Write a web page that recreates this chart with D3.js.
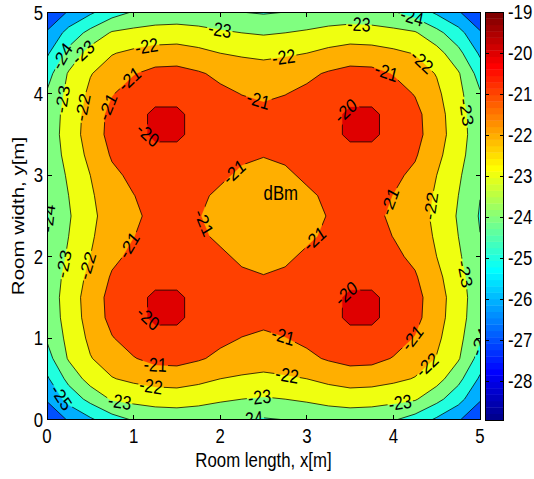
<!DOCTYPE html>
<html>
<head>
<meta charset="utf-8">
<script src="https://cdn.jsdelivr.net/npm/d3@7"></script>
<style>
  body { margin: 0; background: #fff; }
  svg text { font-family: "Liberation Sans", Arial, Helvetica, sans-serif; fill: #000; }
</style>
</head>
<body>
<svg id="chart" width="534" height="479"></svg>
<script>
// ---- data -----------------------------------------------------------------
const xTicks = [0, 1, 2, 3, 4, 5];
const yTicks = [0, 1, 2, 3, 4, 5];
const levels = [-28, -27, -26, -25, -24, -23, -22, -21, -20];
const colorbarTicks = [-19, -20, -21, -22, -23, -24, -25, -26, -27, -28];
const colorLimits = [-28.95, -19];
const gridStep = 0.25; // metres between samples, both directions

// received optical power (dBm), rows from y = 0 m upward, columns from x = 0 m
const power = [
  [-26.75,-25.9,-25.15,-24.4,-23.9,-23.65,-23.6,-23.7,-23.85,-23.98,-24.08,-23.98,-23.85,-23.7,-23.6,-23.65,-23.9,-24.4,-25.15,-25.9,-26.75],
  [-25.9,-24.64,-23.7,-22.9,-22.72,-22.6,-22.55,-22.65,-22.85,-23.0,-23.1,-23.0,-22.85,-22.65,-22.55,-22.6,-22.72,-22.9,-23.7,-24.64,-25.9],
  [-25.15,-23.7,-22.6,-22.05,-21.8,-21.6,-21.55,-21.75,-22.0,-22.13,-22.2,-22.13,-22.0,-21.75,-21.55,-21.6,-21.8,-22.05,-22.6,-23.7,-25.15],
  [-24.4,-22.9,-22.05,-21.55,-21.05,-20.72,-20.68,-20.9,-21.2,-21.45,-21.6,-21.45,-21.2,-20.9,-20.68,-20.72,-21.05,-21.55,-22.05,-22.9,-24.4],
  [-23.9,-22.72,-21.8,-21.05,-20.6,-20.36,-20.36,-20.55,-20.8,-21.02,-21.2,-21.02,-20.8,-20.55,-20.36,-20.36,-20.6,-21.05,-21.8,-22.72,-23.9],
  [-23.65,-22.6,-21.6,-20.72,-20.36,-19.8,-19.8,-20.36,-20.55,-20.67,-20.7,-20.67,-20.55,-20.36,-19.8,-19.8,-20.36,-20.72,-21.6,-22.6,-23.65],
  [-23.6,-22.55,-21.55,-20.68,-20.36,-19.8,-19.8,-20.36,-20.58,-20.7,-20.75,-20.7,-20.58,-20.36,-19.8,-19.8,-20.36,-20.68,-21.55,-22.55,-23.6],
  [-23.7,-22.65,-21.75,-20.9,-20.55,-20.36,-20.36,-20.45,-20.65,-20.85,-20.97,-20.85,-20.65,-20.45,-20.36,-20.36,-20.55,-20.9,-21.75,-22.65,-23.7],
  [-23.85,-22.85,-22.0,-21.2,-20.8,-20.55,-20.58,-20.65,-20.85,-21.15,-21.225,-21.15,-20.85,-20.65,-20.58,-20.55,-20.8,-21.2,-22.0,-22.85,-23.85],
  [-23.98,-23.0,-22.13,-21.45,-21.02,-20.67,-20.7,-20.85,-21.15,-21.4,-21.45,-21.4,-21.15,-20.85,-20.7,-20.67,-21.02,-21.45,-22.13,-23.0,-23.98],
  [-24.08,-23.1,-22.2,-21.6,-21.2,-20.7,-20.75,-20.97,-21.225,-21.45,-21.6,-21.45,-21.225,-20.97,-20.75,-20.7,-21.2,-21.6,-22.2,-23.1,-24.08],
  [-23.98,-23.0,-22.13,-21.45,-21.02,-20.67,-20.7,-20.85,-21.15,-21.4,-21.45,-21.4,-21.15,-20.85,-20.7,-20.67,-21.02,-21.45,-22.13,-23.0,-23.98],
  [-23.85,-22.85,-22.0,-21.2,-20.8,-20.55,-20.58,-20.65,-20.85,-21.15,-21.225,-21.15,-20.85,-20.65,-20.58,-20.55,-20.8,-21.2,-22.0,-22.85,-23.85],
  [-23.7,-22.65,-21.75,-20.9,-20.55,-20.36,-20.36,-20.45,-20.65,-20.85,-20.97,-20.85,-20.65,-20.45,-20.36,-20.36,-20.55,-20.9,-21.75,-22.65,-23.7],
  [-23.6,-22.55,-21.55,-20.68,-20.36,-19.8,-19.8,-20.36,-20.58,-20.7,-20.75,-20.7,-20.58,-20.36,-19.8,-19.8,-20.36,-20.68,-21.55,-22.55,-23.6],
  [-23.65,-22.6,-21.6,-20.72,-20.36,-19.8,-19.8,-20.36,-20.55,-20.67,-20.7,-20.67,-20.55,-20.36,-19.8,-19.8,-20.36,-20.72,-21.6,-22.6,-23.65],
  [-23.9,-22.72,-21.8,-21.05,-20.6,-20.36,-20.36,-20.55,-20.8,-21.02,-21.2,-21.02,-20.8,-20.55,-20.36,-20.36,-20.6,-21.05,-21.8,-22.72,-23.9],
  [-24.4,-22.9,-22.05,-21.55,-21.05,-20.72,-20.68,-20.9,-21.2,-21.45,-21.6,-21.45,-21.2,-20.9,-20.68,-20.72,-21.05,-21.55,-22.05,-22.9,-24.4],
  [-25.15,-23.7,-22.6,-22.05,-21.8,-21.6,-21.55,-21.75,-22.0,-22.13,-22.2,-22.13,-22.0,-21.75,-21.55,-21.6,-21.8,-22.05,-22.6,-23.7,-25.15],
  [-25.9,-24.64,-23.7,-22.9,-22.72,-22.6,-22.55,-22.65,-22.85,-23.0,-23.1,-23.0,-22.85,-22.65,-22.55,-22.6,-22.72,-22.9,-23.7,-24.64,-25.9],
  [-26.75,-25.9,-25.15,-24.4,-23.9,-23.65,-23.6,-23.7,-23.85,-23.98,-24.08,-23.98,-23.85,-23.7,-23.6,-23.65,-23.9,-24.4,-25.15,-25.9,-26.75]
];

// inline contour labels: [level, x (m), y (m)]
const contourLabels = [
  [-24, 0.21, 4.44], [-23, 0.48, 4.44], [-22, 1.15, 4.59], [-23, 1.99, 4.75],
  [-21, 0.94, 4.20], [-23, 0.21, 3.93], [-22, 0.44, 3.83], [-21, 0.73, 3.83],
  [-20, 1.15, 3.48], [-21, 2.40, 3.79], [-21, 2.19, 3.01], [-24, 0.03, 2.47],
  [-21, 1.79, 2.41], [-21, 3.10, 2.21], [-21, 1.00, 2.11], [-23, 0.25, 1.90],
  [-22, 0.50, 1.88], [-20, 1.13, 1.20], [-21, 1.23, 0.61], [-22, 1.19, 0.34],
  [-23, 0.84, 0.22], [-25, 0.15, 0.26], [-23, 2.46, 0.22], [-24, 2.36, 0.00],
  [-24, 4.20, 4.89], [-23, 3.60, 4.79], [-22, 2.74, 4.40], [-22, 4.28, 4.34],
  [-21, 3.91, 4.24], [-20, 3.47, 3.77], [-23, 4.80, 3.77], [-21, 3.91, 2.70],
  [-22, 4.45, 2.62], [-23, 4.78, 1.78], [-20, 3.47, 1.53], [-21, 2.72, 1.00],
  [-21, 4.26, 0.96], [-22, 2.77, 0.53], [-22, 4.39, 0.67], [-23, 4.08, 0.20],
  [-24, 4.97, 1.00]
];
const unitNote = { text: "dBm", x: 2.70, y: 2.79 };

// ---- layout ----------------------------------------------------------------
const plot = { left: 47, right: 480, top: 12.5, bottom: 419.5 };
const cbar = { left: 485, right: 503, top: 12, bottom: 420 };
const FONT = 20.5, LABEL_FONT = 19.5, SX = 0.82; // text is drawn narrow, as in the printed figure
const TICK = 4.5, CB_TICK = 3.5;

const svg = d3.select("#chart");
svg.append("rect").attr("width", 534).attr("height", 479).attr("fill", "#fff");

const x = d3.scaleLinear().domain([0, 5]).range([plot.left, plot.right]);
const y = d3.scaleLinear().domain([0, 5]).range([plot.bottom, plot.top]);
const cb = d3.scaleLinear().domain(colorLimits).range([cbar.bottom, cbar.top]);

// MATLAB-style 64-entry jet colormap
function jet(k) {
  const r = k <= 24 ? 0 : k <= 40 ? (k - 24) / 16 : k <= 55 ? 1 : (72 - k) / 16;
  const g = k <= 8 ? 0 : k <= 24 ? (k - 8) / 16 : k <= 39 ? 1 : k <= 55 ? (56 - k) / 16 : 0;
  const b = k <= 8 ? (k + 8) / 16 : k <= 23 ? 1 : k <= 39 ? (40 - k) / 16 : 0;
  return d3.rgb(r * 255, g * 255, b * 255).formatHex();
}
function colorIndex(v) {
  const k = Math.floor((v - colorLimits[0]) / (colorLimits[1] - colorLimits[0]) * 64) + 1;
  return Math.max(1, Math.min(64, k));
}

// ---- contours ---------------------------------------------------------------
const nx = power[0].length, ny = power.length;
const values = power.flat();
const gen = d3.contours().size([nx, ny]).thresholds(levels);
const bands = gen(values);
const toX = gx => x((gx - 0.5) * gridStep);
const toY = gy => y((gy - 0.5) * gridStep);
const proj = d3.geoTransform({ point(px, py) { this.stream.point(toX(px), toY(py)); } });
const path = d3.geoPath(proj);

const defs = svg.append("defs");
defs.append("clipPath").attr("id", "plotClip")
  .append("rect").attr("x", plot.left).attr("y", plot.top)
  .attr("width", plot.right - plot.left).attr("height", plot.bottom - plot.top);

const fills = svg.append("g").attr("clip-path", "url(#plotClip)");
fills.selectAll("path").data(bands).join("path")
  .attr("d", path)
  .attr("fill", d => jet(colorIndex(d.value)))
  .attr("stroke", d => jet(colorIndex(d.value)))
  .attr("stroke-width", 0.3);

// place each label on the nearest stretch of its contour
function nearestOnContour(level, px, py) {
  const mp = gen.contour(values, level);
  const inside = p => p[0] >= plot.left - 0.01 && p[0] <= plot.right + 0.01 &&
                      p[1] >= plot.top - 0.01 && p[1] <= plot.bottom + 0.01;
  let best = null;
  mp.coordinates.forEach(poly => poly.forEach(ring => {
    const pts = ring.map(([gx, gy]) => [toX(gx), toY(gy)]);
    for (let k = 0; k < pts.length - 1; k++) {
      const a = pts[k], b = pts[k + 1];
      if (!inside(a) || !inside(b)) continue;
      const dx = b[0] - a[0], dy = b[1] - a[1], l2 = dx * dx + dy * dy;
      if (l2 < 1e-9) continue;
      let t = ((px - a[0]) * dx + (py - a[1]) * dy) / l2;
      t = Math.max(0, Math.min(1, t));
      const qx = a[0] + t * dx, qy = a[1] + t * dy;
      const d = (qx - px) ** 2 + (qy - py) ** 2;
      if (!best || d < best.d) best = { d, qx, qy, dx, dy };
    }
  }));
  return best;
}

const measure = svg.append("text").attr("font-size", LABEL_FONT).attr("opacity", 0);
const labelData = contourLabels.map(([lv, lx, ly]) => {
  const hit = nearestOnContour(lv, x(lx), y(ly));
  let px = x(lx), py = y(ly), dx = 1, dy = 0;
  if (hit) { px = hit.qx; py = hit.qy; dx = hit.dx; dy = hit.dy; }
  if (dx < 0 || (dx === 0 && dy > 0)) { dx = -dx; dy = -dy; }
  const phi = Math.atan2(dy, dx / SX) * 180 / Math.PI;
  measure.text(String(lv));
  const len = measure.node().getComputedTextLength();
  return { text: String(lv), transform: `translate(${px},${py}) scale(${SX},1) rotate(${phi})`, len };
});
measure.remove();

const mask = defs.append("mask").attr("id", "labelGaps")
  .attr("maskUnits", "userSpaceOnUse").attr("x", 0).attr("y", 0).attr("width", 534).attr("height", 479);
mask.append("rect").attr("width", 534).attr("height", 479).attr("fill", "#fff");
mask.selectAll("rect.gap").data(labelData).join("rect").attr("class", "gap")
  .attr("transform", d => d.transform)
  .attr("x", d => -d.len / 2 - 1.5).attr("y", -LABEL_FONT * 0.42)
  .attr("width", d => d.len + 3).attr("height", LABEL_FONT * 0.84)
  .attr("fill", "#000");

const lines = svg.append("g").attr("clip-path", "url(#plotClip)")
  .append("g").attr("mask", "url(#labelGaps)");
lines.selectAll("path").data(bands.filter(b => b.value > levels[0])).join("path")
  .attr("d", path).attr("fill", "none").attr("stroke", "#000").attr("stroke-width", 0.75);

const labels = svg.append("g").attr("clip-path", "url(#plotClip)");
labels.selectAll("text").data(labelData).join("text")
  .attr("transform", d => d.transform)
  .attr("text-anchor", "middle").attr("dominant-baseline", "central")
  .attr("font-size", LABEL_FONT)
  .text(d => d.text);

svg.append("text")
  .attr("transform", `translate(${x(unitNote.x)},${y(unitNote.y)}) scale(${SX},1)`)
  .attr("text-anchor", "middle").attr("dominant-baseline", "central")
  .attr("font-size", FONT).text(unitNote.text);

// ---- axes -------------------------------------------------------------------
const axes = svg.append("g").attr("stroke", "#000").attr("stroke-width", 1).attr("shape-rendering", "crispEdges");
axes.append("rect").attr("x", plot.left).attr("y", plot.top)
  .attr("width", plot.right - plot.left).attr("height", plot.bottom - plot.top).attr("fill", "none");
xTicks.forEach(t => {
  axes.append("line").attr("x1", x(t)).attr("x2", x(t)).attr("y1", plot.bottom).attr("y2", plot.bottom - TICK);
  axes.append("line").attr("x1", x(t)).attr("x2", x(t)).attr("y1", plot.top).attr("y2", plot.top + TICK);
});
yTicks.forEach(t => {
  axes.append("line").attr("y1", y(t)).attr("y2", y(t)).attr("x1", plot.left).attr("x2", plot.left + TICK);
  axes.append("line").attr("y1", y(t)).attr("y2", y(t)).attr("x1", plot.right).attr("x2", plot.right - TICK);
});

svg.append("g").selectAll("text").data(xTicks).join("text")
  .attr("transform", t => `translate(${x(t)},${plot.bottom + 23.5}) scale(${SX},1)`)
  .attr("text-anchor", "middle").attr("font-size", FONT).text(t => t);
svg.append("g").selectAll("text").data(yTicks).join("text")
  .attr("transform", t => `translate(${plot.left - 4},${y(t)}) scale(${SX},1)`)
  .attr("text-anchor", "end").attr("dominant-baseline", "central").attr("font-size", FONT).text(t => t);

svg.append("text")
  .attr("transform", `translate(${(plot.left + plot.right) / 2},467) scale(${SX},1)`)
  .attr("text-anchor", "middle").attr("font-size", FONT).text("Room length, x[m]");
svg.append("text")
  .attr("transform", `translate(23.5,${(plot.top + plot.bottom) / 2}) scale(${SX},1) rotate(-90)`)
  .attr("text-anchor", "middle").attr("font-size", FONT).text("Room width, y[m]");

// ---- colorbar ------------------------------------------------------------------
const steps = d3.range(1, 65);
const dv = (colorLimits[1] - colorLimits[0]) / 64;
svg.append("g").selectAll("rect").data(steps).join("rect")
  .attr("x", cbar.left).attr("width", cbar.right - cbar.left)
  .attr("y", k => cb(colorLimits[0] + k * dv))
  .attr("height", k => cb(colorLimits[0] + (k - 1) * dv) - cb(colorLimits[0] + k * dv) + 0.4)
  .attr("fill", k => jet(k));
const cbAxis = svg.append("g").attr("stroke", "#000").attr("stroke-width", 1).attr("shape-rendering", "crispEdges");
cbAxis.append("rect").attr("x", cbar.left).attr("y", cbar.top)
  .attr("width", cbar.right - cbar.left).attr("height", cbar.bottom - cbar.top).attr("fill", "none");
colorbarTicks.forEach(t => {
  cbAxis.append("line").attr("y1", cb(t)).attr("y2", cb(t)).attr("x1", cbar.left).attr("x2", cbar.left + CB_TICK);
  cbAxis.append("line").attr("y1", cb(t)).attr("y2", cb(t)).attr("x1", cbar.right).attr("x2", cbar.right - CB_TICK);
});
svg.append("g").selectAll("text").data(colorbarTicks).join("text")
  .attr("transform", t => `translate(${cbar.right + 5},${cb(t)}) scale(${SX},1)`)
  .attr("dominant-baseline", "central").attr("font-size", FONT).text(t => t);
</script>
</body>
</html>
